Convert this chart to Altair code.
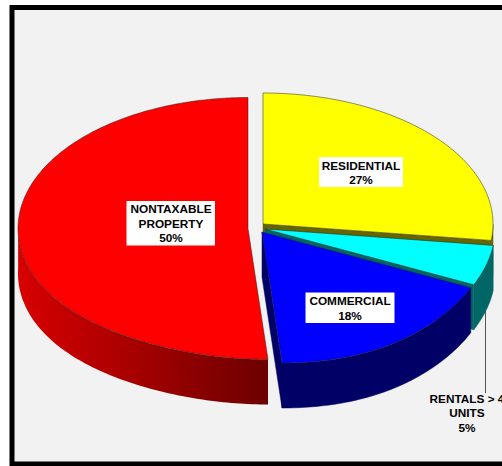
import math
import altair as alt
import pandas as pd

# Shares of the tax base, clockwise from twelve o'clock
categories = ["RESIDENTIAL", "RENTALS > 4 UNITS", "COMMERCIAL", "NONTAXABLE PROPERTY"]
shares = [27, 5, 18, 50]
top_colors = ["#ffff00", "#00ffff", "#0000ff", "#ff0000"]
wall_colors = ["#666600", "#006666", "#000066", None]

# Where each exploded slice has its apex on the page
apexes = [(263, 224), (265, 229), (262, 232), (248, 228.5)]

# Tilted pie geometry
RX, RY, DEPTH, SKEW = 230, 131, 45, 20
BG = "#f2f2f2"


def rim(apex, deg, drop=0):
    t = math.radians(deg)
    lean = SKEW * max(0.0, -math.cos(t)) ** 4
    return [apex[0] + RX * math.sin(t) + lean, apex[1] - RY * math.cos(t) + drop]


def arc(apex, a0, a1, drop=0):
    n = max(2, int(abs(a1 - a0)) + 1)
    return [rim(apex, a0 + (a1 - a0) * i / n, drop) for i in range(n + 1)]


def shape(points, fill, stroke):
    ring = [list(p) for p in points]
    ring.append(ring[0])
    return {
        "type": "Feature",
        "geometry": {"type": "Polygon", "coordinates": [ring]},
        "properties": {"fill": fill, "stroke": stroke},
    }


features = []
shaded_wall = []
start = 0.0
for apex, share, top, wall in zip(apexes, shares, top_colors, wall_colors):
    end = start + share * 3.6
    a = (apex[0], apex[1])
    if wall is None:
        # Curved outer wall of the largest slice, shaded as one gradient
        w0 = max(start, 180.0)
        shaded_wall.append(shape(arc(a, w0, 272) + arc(a, 272, w0, DEPTH), "", ""))
    else:
        # Cut face at the clockwise end of the slice
        p = rim(a, end)
        features.append(shape([a, p, [p[0], p[1] + DEPTH], [a[0], a[1] + DEPTH]], wall, wall))
        # Outer wall
        if end > 90:
            w0 = max(start, 90.0)
            features.append(shape(arc(a, w0, end) + arc(a, end, w0, DEPTH), wall, wall))
    features.append(shape([a] + arc(a, start, end), top, "#222222"))
    start = end

# Label boxes and text lines
boxes = pd.DataFrame(
    {
        "x0": [126.5, 319, 305.5],
        "x1": [215, 403, 394.5],
        "y0": [201, 157, 292.5],
        "y1": [245.5, 187, 323],
    }
)
label_lines = ["NONTAXABLE", "PROPERTY", "50%", "RESIDENTIAL", "27%", "COMMERCIAL", "18%",
               "RENTALS > 4", "UNITS", "5%"]
label_x = [171, 171, 171, 361, 361, 350, 350, 467, 467, 467]
label_y = [209, 223.5, 238, 165.5, 180, 301, 315.5, 399, 413, 427.5]
labels = pd.DataFrame({"text": label_lines, "x": label_x, "y": label_y})

px = alt.Scale(domain=[0, 502], range=[0, 502])
py = alt.Scale(domain=[0, 466], range=[0, 466])

frame = (
    alt.Chart(pd.DataFrame({"x0": [12], "x1": [530], "y0": [7.5], "y1": [464]}))
    .mark_rect(fill=BG, stroke="#000000", strokeWidth=5)
    .encode(
        x=alt.X("x0:Q", scale=px, axis=None),
        x2="x1:Q",
        y=alt.Y("y0:Q", scale=py, axis=None),
        y2="y1:Q",
    )
)

leader = (
    alt.Chart(pd.DataFrame({"x": [485.5], "y0": [311], "y1": [393]}))
    .mark_rule(color="#555555", strokeWidth=1)
    .encode(
        x=alt.X("x:Q", scale=px, axis=None),
        y=alt.Y("y0:Q", scale=py, axis=None),
        y2="y1:Q",
    )
)

red_wall = (
    alt.Chart(alt.InlineData(values=shaded_wall, format=alt.DataFormat(type="json")))
    .mark_geoshape(
        filled=True,
        strokeWidth=0,
        fill=alt.Gradient(
            gradient="linear",
            x1=0, y1=0, x2=1, y2=0,
            stops=[
                alt.GradientStop(color="#d80000", offset=0),
                alt.GradientStop(color="#6c0000", offset=1),
            ],
        ),
    )
    .project(type="identity", scale=1, translate=[0, 0])
)

pie = (
    alt.Chart(alt.InlineData(values=features, format=alt.DataFormat(type="json")))
    .mark_geoshape(filled=True, strokeWidth=0.5)
    .encode(
        fill=alt.Fill("properties.fill:N", scale=None),
        stroke=alt.Stroke("properties.stroke:N", scale=None),
    )
    .project(type="identity", scale=1, translate=[0, 0])
)

label_boxes = (
    alt.Chart(boxes)
    .mark_rect(fill="#ffffff")
    .encode(
        x=alt.X("x0:Q", scale=px, axis=None),
        x2="x1:Q",
        y=alt.Y("y0:Q", scale=py, axis=None),
        y2="y1:Q",
    )
)

label_text = (
    alt.Chart(labels)
    .mark_text(font="Liberation Sans", fontWeight="bold", fontSize=11.8, color="#000000",
               align="center", baseline="middle")
    .encode(
        x=alt.X("x:Q", scale=px, axis=None),
        y=alt.Y("y:Q", scale=py, axis=None),
        text="text:N",
    )
)

chart = (
    alt.layer(frame, leader, red_wall, pie, label_boxes, label_text)
    .resolve_scale(x="shared", y="shared")
    .properties(width=502, height=466, padding=0, autosize="none", background="#ffffff")
    .configure_view(stroke=None)
)

chart.save("out.html", embed_options={"renderer": "svg", "actions": False})
